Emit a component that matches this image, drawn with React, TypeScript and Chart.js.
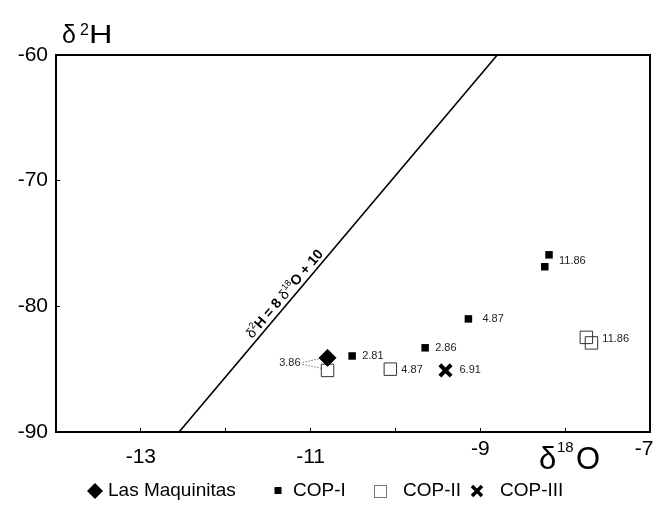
import React, { useEffect, useRef } from 'react';
import { Chart, registerables } from 'chart.js';

Chart.register(...registerables);

// ---------------- data ----------------
const seriesNames = ['Las Maquinitas', 'COP-I', 'COP-II', 'COP-III'];

const lasMaquinitasX = [-10.8];
const lasMaquinitasY = [-84.1];

const copIX = [-10.51, -9.65, -9.14, -8.19, -8.24];
const copIY = [-83.95, -83.3, -81.0, -75.9, -76.85];
const copILabels = ['2.81', '2.86', '4.87', '11.86', ''];

const copIIX = [-10.8, -10.06, -7.75, -7.69];
const copIIY = [-85.1, -85.0, -82.47, -82.91];
const copIILabels = ['3.86', '4.87', '11.86', ''];

const copIIIX = [-9.41];
const copIIIY = [-85.1];
const copIIILabels = ['6.91'];

// meteoric water line  δ2H = 8 δ18O + 10 (end points)
const mwlX = [-12.55, -8.8];
const mwlY = [-90, -60];

const xMin = -14;
const xMax = -7;
const yMin = -90;
const yMax = -60;
const xTickLabels = [-13, -11, -9, -7];
const xRaisedTickLabels = [-9, -7];

// ---------------- styles ----------------
const FONT = '"Liberation Sans", Arial, Helvetica, sans-serif';

// label placement: [dx, dy, align]
const copILabelOffsets: [number, number, CanvasTextAlign][] = [
  [10, 0, 'left'], [10, 0, 'left'], [14, 0, 'left'], [10, 6, 'left'], [0, 0, 'left'],
];
const copIILabelOffsets: [number, number, CanvasTextAlign][] = [
  [-27, -7, 'right'], [11, 1, 'left'], [16, 1.5, 'left'], [0, 0, 'left'],
];
const copIIILabelOffsets: [number, number, CanvasTextAlign][] = [[14, 0, 'left']];

const legendMarkerX = [95, 278, 380, 477];
const legendTextX = [108, 293, 403, 500];
const legendY = 491;

const toPts = (xs: number[], ys: number[]) => xs.map((x, i) => ({ x, y: ys[i] }));

function drawMixedText(
  ctx: CanvasRenderingContext2D,
  parts: { t: string; font: string; dy: number }[],
  x: number,
  y: number,
  centered: boolean
) {
  let total = 0;
  parts.forEach((p) => {
    ctx.font = p.font;
    total += ctx.measureText(p.t).width;
  });
  let cx = centered ? x - total / 2 : x;
  parts.forEach((p) => {
    ctx.font = p.font;
    ctx.fillText(p.t, cx, y + p.dy);
    cx += ctx.measureText(p.t).width;
  });
}

const overlayPlugin = {
  id: 'overlay',
  afterDraw(chart: any) {
    const { ctx, chartArea: a } = chart;
    ctx.save();

    // frame (top and right)
    ctx.strokeStyle = '#000';
    ctx.lineWidth = 2;
    ctx.beginPath();
    ctx.moveTo(a.left - 1, a.top);
    ctx.lineTo(a.right, a.top);
    ctx.lineTo(a.right, a.bottom + 1);
    ctx.stroke();

    // point labels
    ctx.font = `11px ${FONT}`;
    ctx.fillStyle = '#222';
    ctx.textBaseline = 'middle';
    const sets = [
      { ds: 1, labels: copILabels, offs: copILabelOffsets },
      { ds: 2, labels: copIILabels, offs: copIILabelOffsets },
      { ds: 3, labels: copIIILabels, offs: copIIILabelOffsets },
    ];
    sets.forEach(({ ds, labels, offs }) => {
      const meta = chart.getDatasetMeta(ds);
      labels.forEach((t, i) => {
        if (!t) return;
        const el = meta.data[i];
        const [dx, dy, align] = offs[i];
        ctx.textAlign = align;
        ctx.fillText(t, el.x + dx, el.y + dy);
      });
    });

    // leader lines for "3.86"
    const sq = chart.getDatasetMeta(2).data[0];
    const dia = chart.getDatasetMeta(0).data[0];
    const lx = sq.x + copIILabelOffsets[0][0] + 2;
    const ly = sq.y + copIILabelOffsets[0][1];
    ctx.strokeStyle = '#555';
    ctx.lineWidth = 0.8;
    ctx.setLineDash([1.5, 1.5]);
    ctx.beginPath();
    ctx.moveTo(lx, ly - 1);
    ctx.lineTo(dia.x - 8.5, dia.y + 1);
    ctx.moveTo(lx, ly + 1);
    ctx.lineTo(sq.x - 6, sq.y - 2);
    ctx.stroke();
    ctx.setLineDash([]);

    // equation label along the line
    const lm = chart.getDatasetMeta(4).data;
    const p0 = lm[0];
    const p1 = lm[1];
    const t = 0.352;
    const px = p0.x + (p1.x - p0.x) * t;
    const py = p0.y + (p1.y - p0.y) * t;
    const ang = Math.atan2(p1.y - p0.y, p1.x - p0.x);
    const len = Math.hypot(p1.x - p0.x, p1.y - p0.y);
    const ux = (p1.x - p0.x) / len;
    const uy = (p1.y - p0.y) / len;
    const nx = uy;
    const ny = -ux;
    ctx.save();
    ctx.translate(px + nx * 9, py + ny * 9);
    ctx.rotate(ang);
    ctx.fillStyle = '#000';
    ctx.textAlign = 'left';
    ctx.textBaseline = 'alphabetic';
    drawMixedText(
      ctx,
      [
        { t: 'δ', font: `14px ${FONT}`, dy: 5 },
        { t: '2', font: `9px ${FONT}`, dy: -1 },
        { t: 'H = 8 ', font: `bold 14px ${FONT}`, dy: 5 },
        { t: 'δ', font: `14px ${FONT}`, dy: 5 },
        { t: '18', font: `9px ${FONT}`, dy: -1 },
        { t: 'O + 10', font: `bold 14px ${FONT}`, dy: 5 },
      ],
      0,
      0,
      true
    );
    ctx.restore();

    // axis titles
    ctx.fillStyle = '#000';
    ctx.textAlign = 'left';
    ctx.textBaseline = 'alphabetic';
    ctx.font = `25px ${FONT}`;
    ctx.fillText('δ', 62, 43);
    ctx.font = `16px ${FONT}`;
    ctx.fillText('2', 80, 35);
    ctx.save();
    ctx.translate(89, 43);
    ctx.scale(1.3, 1);
    ctx.font = `25px ${FONT}`;
    ctx.fillText('H', 0, 0);
    ctx.restore();

    ctx.font = `31px ${FONT}`;
    ctx.fillText('δ', 539, 469);
    ctx.font = `15px ${FONT}`;
    ctx.fillText('18', 557, 452);
    ctx.font = `31px ${FONT}`;
    ctx.fillText('O', 576, 469);

    // legend
    ctx.textBaseline = 'middle';
    ctx.font = `19px ${FONT}`;
    seriesNames.forEach((name, i) => {
      ctx.fillStyle = '#000';
      ctx.fillText(name, legendTextX[i], legendY);
    });
    // markers
    const mx = legendMarkerX;
    ctx.fillStyle = '#000';
    ctx.beginPath();
    ctx.moveTo(mx[0] - 8, legendY);
    ctx.lineTo(mx[0], legendY - 8);
    ctx.lineTo(mx[0] + 8, legendY);
    ctx.lineTo(mx[0], legendY + 8);
    ctx.closePath();
    ctx.fill();
    ctx.fillRect(mx[1] - 3.5, legendY - 4, 7, 7);
    ctx.strokeStyle = '#777';
    ctx.lineWidth = 1;
    ctx.strokeRect(mx[2] - 6 + 0.5, legendY - 6 + 0.5, 12, 12);
    ctx.strokeStyle = '#000';
    ctx.lineWidth = 3.5;
    ctx.beginPath();
    ctx.moveTo(mx[3] - 5, legendY - 5);
    ctx.lineTo(mx[3] + 5, legendY + 5);
    ctx.moveTo(mx[3] + 5, legendY - 5);
    ctx.lineTo(mx[3] - 5, legendY + 5);
    ctx.stroke();

    ctx.restore();
  },
};

export default function App() {
  const ref = useRef<HTMLCanvasElement>(null);

  useEffect(() => {
    const canvas = ref.current;
    if (!canvas) return;
    const chart = new Chart(canvas, {
      type: 'scatter',
      data: {
        datasets: [
          {
            label: seriesNames[0],
            data: toPts(lasMaquinitasX, lasMaquinitasY),
            pointStyle: 'rectRot',
            pointRadius: 8.5,
            backgroundColor: '#000',
            borderColor: '#000',
            borderWidth: 1,
          },
          {
            label: seriesNames[1],
            data: toPts(copIX, copIY),
            pointStyle: 'rect',
            pointRadius: 5.3,
            backgroundColor: '#000',
            borderColor: '#000',
            borderWidth: 0,
          },
          {
            label: seriesNames[2],
            data: toPts(copIIX, copIIY),
            pointStyle: 'rect',
            pointRadius: 8.8,
            backgroundColor: 'rgba(0,0,0,0)',
            borderColor: '#333',
            borderWidth: 1,
          },
          {
            label: seriesNames[3],
            data: toPts(copIIIX, copIIIY),
            pointStyle: 'crossRot',
            pointRadius: 8,
            backgroundColor: '#000',
            borderColor: '#000',
            borderWidth: 4,
          },
          {
            label: 'δ2H = 8δ18O + 10',
            data: toPts(mwlX, mwlY),
            showLine: true,
            pointRadius: 0,
            borderColor: '#000',
            borderWidth: 1.6,
            fill: false,
          },
        ],
      } as any,
      options: {
        responsive: false,
        animation: false,
        devicePixelRatio: 1,
        layout: { autoPadding: false, padding: { left: 0, right: 6, top: 55, bottom: 0 } },
        plugins: {
          legend: { display: false },
          tooltip: { enabled: false },
        },
        scales: {
          x: {
            type: 'linear',
            position: 'bottom',
            min: xMin,
            max: xMax,
            afterFit: (s: any) => {
              s.height = 82;
              s.paddingLeft = 0;
              s.paddingRight = 0;
            },
            ticks: {
              stepSize: 1,
              autoSkip: false,
              maxRotation: 0,
              padding: 17,
              color: '#000',
              callback: (v: any) => {
                const n = Number(v);
                if (!xTickLabels.includes(n)) return '';
                return n === xMax ? String(n) + '  ' : String(n);
              },
              font: (c: any) => ({
                family: FONT,
                size: 21,
                lineHeight: c.tick && xRaisedTickLabels.includes(c.tick.value) ? 0.44 : 1.2,
              }),
            },
            grid: { drawOnChartArea: false, drawTicks: true, tickLength: -4, color: '#000', lineWidth: 1 },
            border: { display: true, color: '#000', width: 2 },
          },
          y: {
            type: 'linear',
            min: yMin,
            max: yMax,
            afterFit: (s: any) => {
              s.width = 56;
              s.paddingTop = 0;
              s.paddingBottom = 0;
            },
            ticks: {
              stepSize: 10,
              padding: 12,
              color: '#000',
              font: { family: FONT, size: 21 },
            },
            grid: { drawOnChartArea: false, drawTicks: true, tickLength: -4, color: '#000', lineWidth: 1 },
            border: { display: true, color: '#000', width: 2 },
          },
        },
      } as any,
      plugins: [overlayPlugin],
    });
    return () => chart.destroy();
  }, []);

  return (
    <div style={{ position: 'absolute', left: 0, top: 0, width: 656, height: 514, background: '#fff' }}>
      <canvas ref={ref} width={656} height={514} style={{ display: 'block' }} />
    </div>
  );
}
